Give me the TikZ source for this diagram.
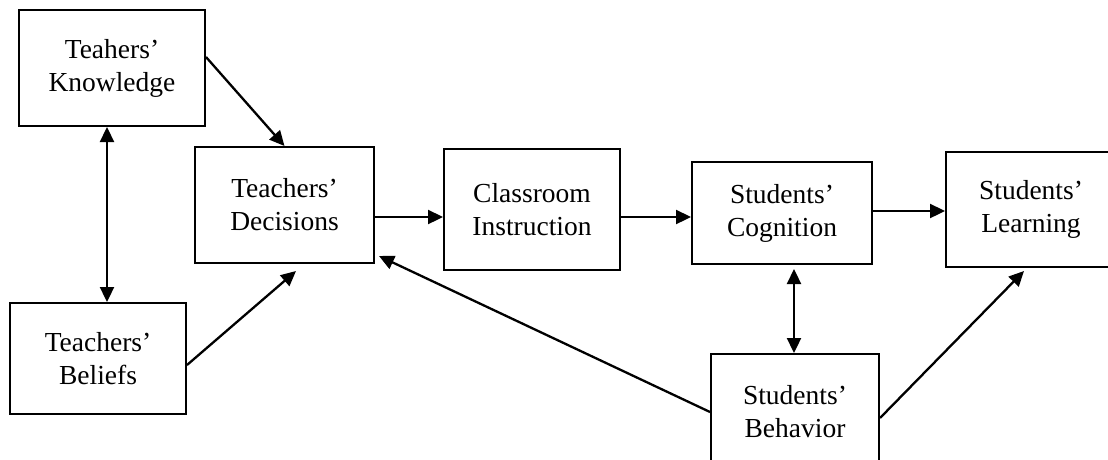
\documentclass[tikz,border=0pt]{standalone}
\usepackage{fontspec}
\setmainfont{Liberation Serif}
\usetikzlibrary{arrows.meta}

\begin{document}
\begin{tikzpicture}[x=1pt, y=-1pt,
    box/.style={draw, line width=2pt, align=center, inner sep=0pt,
                font=\fontsize{27.5}{33}\selectfont},
    arr/.style={line width=2.3pt, -{Triangle[length=15pt,width=14pt]}},
    darr/.style={line width=2.3pt, {Triangle[length=15pt,width=14pt]}-{Triangle[length=15pt,width=14pt]}}]
    \useasboundingbox (0,0) rectangle (1108,459);
    \clip (0,0) rectangle (1108,459);
    % boxes
    \node [box, minimum width=186pt, minimum height=116pt] (know) at (112,68)    {Teahers’\\Knowledge};
    \node [box, minimum width=176pt, minimum height=111pt] (bel)  at (98,358.5)  {Teachers’\\Beliefs};
    \node [box, minimum width=179pt, minimum height=116pt] (dec)  at (284.5,205) {Teachers’\\Decisions};
    \node [box, minimum width=176pt, minimum height=121pt] (cls)  at (532,209.5) {Classroom\\Instruction};
    \node [box, minimum width=180pt, minimum height=102pt] (cog)  at (782,213)   {Students’\\Cognition};
    \node [box, minimum width=170pt, minimum height=115pt] (lrn)  at (1031,209.5) {Students’\\Learning};
    \node [box, minimum width=168pt, minimum height=116pt] (beh)  at (795,412)   {Students’\\Behavior};
    % connectors
    \draw [arr] ([yshift=11pt]know.east) -- (dec.north);
    \draw [darr] ([xshift=-5pt]know.south) -- ([xshift=-5pt]know.south |- bel.north);
    \draw [arr] ([yshift=-6.5pt]bel.east) -- ([xshift=11.5pt,yshift=-7pt]dec.south);
    \draw [arr] ([yshift=-12pt]dec.east) -- ([yshift=-12pt]dec.east -| cls.west);
    \draw [arr] ([yshift=-7.5pt]cls.east) -- ([yshift=-7.5pt]cls.east -| cog.west);
    \draw [arr] ([yshift=2pt]cog.east) -- ([yshift=2pt]cog.east -| lrn.west);
    \draw [darr] ([xshift=12pt,yshift=-4pt]cog.south) -- ([xshift=12pt]cog.south |- beh.north);
    \draw [arr] (beh.west) -- ([xshift=4pt,yshift=8pt]dec.south east);
    \draw [arr] ([yshift=-6pt]beh.east) -- ([xshift=-7pt,yshift=-3pt]lrn.south);
\end{tikzpicture}
\end{document}
